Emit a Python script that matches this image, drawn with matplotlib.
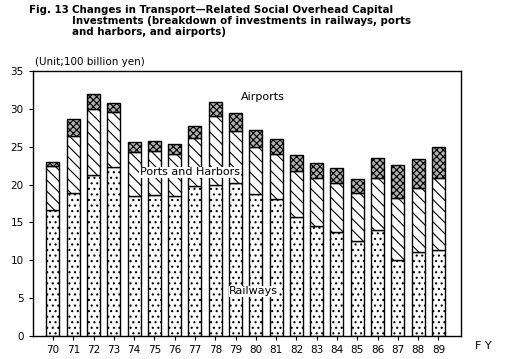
import numpy as np
import matplotlib
matplotlib.use('Agg')
import matplotlib.pyplot as plt

years = ['70', '71', '72', '73', '74', '75', '76', '77', '78', '79',
         '80', '81', '82', '83', '84', '85', '86', '87', '88', '89']
railways = [16.7, 18.9, 21.3, 22.3, 18.5, 18.6, 18.5, 19.8, 20.0, 20.2,
            18.7, 18.1, 15.7, 14.5, 13.8, 12.5, 14.0, 10.0, 11.1, 11.3]
ports = [5.7, 7.5, 8.7, 7.3, 5.8, 5.9, 5.5, 6.3, 9.0, 6.9,
         6.2, 6.0, 6.1, 6.4, 6.4, 6.4, 6.9, 8.2, 8.5, 9.6]
airports = [0.55, 2.3, 1.9, 1.2, 1.3, 1.3, 1.3, 1.7, 1.9, 2.3,
            2.3, 1.9, 2.1, 1.9, 2.0, 1.9, 2.6, 4.4, 3.8, 4.1]

plt.rcParams['font.family'] = ['DejaVu Sans']
plt.rcParams['hatch.linewidth'] = 0.8

fig = plt.figure(figsize=(5.11, 3.59), dpi=100)
ax = fig.add_axes([32.7/511, 1 - 336/359, (460.7-32.7)/511, (336-71)/359])

x = np.arange(len(years))
rail = np.array(railways)
port = np.array(ports)
air = np.array(airports)
w = 0.64
ax.bar(x, rail, w, color='white', edgecolor='black', hatch='...', linewidth=1.0)
ax.bar(x, port, w, bottom=rail, color='white', edgecolor='black', hatch='\\\\\\', linewidth=1.0)
ax.bar(x, air, w, bottom=rail+port, color='#b0b0b0', edgecolor='black', hatch='xxxxx', linewidth=1.0)

ax.set_xlim(-1.0, 20.1)
ax.set_ylim(0, 35)
ax.set_yticks(range(0, 36, 5))
ax.set_xticks(x)
ax.set_xticklabels(years)
ax.tick_params(axis='both', labelsize=7.5, length=3, width=0.8)
for s in ax.spines.values():
    s.set_linewidth(1.0)

ax.text(10.35, 31.6, 'Airports', fontsize=8, ha='center', va='center')
ax.text(6.75, 21.6, 'Ports and Harbors', fontsize=8, ha='center', va='center',
        bbox=dict(facecolor='white', edgecolor='none', pad=0.5))
ax.text(9.9, 5.9, 'Railways', fontsize=8, ha='center', va='center',
        bbox=dict(facecolor='white', edgecolor='none', pad=0.5))

fig.text(475/511, 1 - 346/359, 'F Y', fontsize=8, ha='left', va='center')
fig.text(35/511, 1 - 62/359, '(Unit;100 billion yen)', fontsize=7.5, ha='left', va='center')
fig.text(29/511, 1 - 5/359, 'Fig. 13', fontsize=7.4, fontweight='bold', ha='left', va='top')
fig.text(72/511, 1 - 5/359,
         'Changes in Transport\u2014Related Social Overhead Capital\n'
         'Investments (breakdown of investments in railways, ports\n'
         'and harbors, and airports)',
         fontsize=7.4, fontweight='bold', ha='left', va='top', linespacing=1.1)

fig.savefig('out.png', dpi=100)
